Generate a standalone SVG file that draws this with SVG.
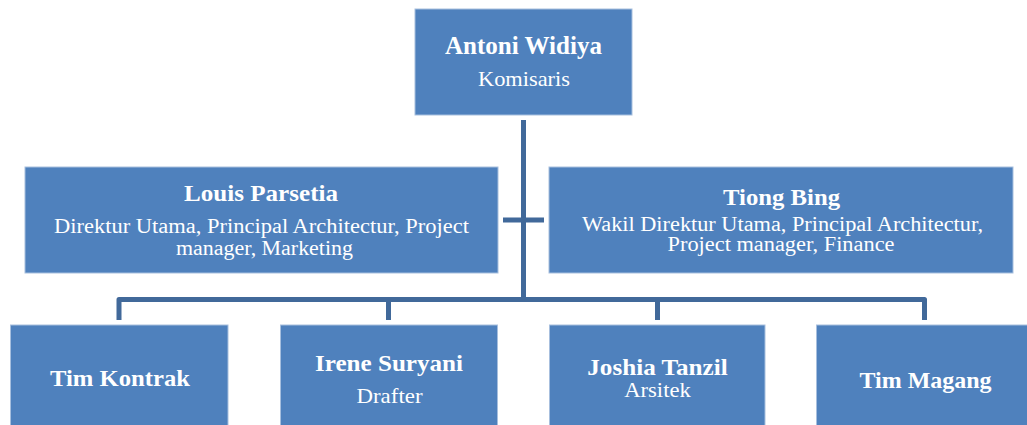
<svg xmlns="http://www.w3.org/2000/svg" width="1027" height="425" viewBox="0 0 1027 425">
<style>
.box{fill:#4F81BD;stroke:#A7BFDE;stroke-width:1}
.t{font-family:"Liberation Serif","DejaVu Serif",serif;fill:#FFFFFF;text-anchor:middle}
.b{font-weight:bold;font-size:24px}
.r{font-size:20.5px}
.conn{stroke:#41699A;stroke-width:5;fill:none;stroke-linejoin:round}
</style>
<rect width="1027" height="425" fill="#FFFFFF"/>
<g id="connectors">
<path class="conn" d="M523.5 120 V299.5"/>
<path class="conn" d="M503 220 H544"/>
<path class="conn" d="M119 320 V299.5 H924.5 V320"/>
<path class="conn" d="M388.5 299.5 V320"/>
<path class="conn" d="M657.5 299.5 V320"/>
</g>
<g id="antoni">
<rect class="box" x="415" y="9" width="217" height="106"/>
<text class="t b" x="523.5" y="54" style="font-size:25px" textLength="157" lengthAdjust="spacingAndGlyphs">Antoni Widiya</text>
<text class="t r" x="524" y="86" style="font-size:21.5px" textLength="92" lengthAdjust="spacingAndGlyphs">Komisaris</text>
</g>
<g id="louis">
<rect class="box" x="25" y="167" width="473" height="106"/>
<text class="t b" x="261" y="201" textLength="154" lengthAdjust="spacingAndGlyphs">Louis Parsetia</text>
<text class="t r" x="261.5" y="232.7" textLength="415" lengthAdjust="spacingAndGlyphs">Direktur Utama, Principal Architectur, Project</text>
<text class="t r" x="264.5" y="254.5" textLength="177" lengthAdjust="spacingAndGlyphs">manager, Marketing</text>
</g>
<g id="tiong">
<rect class="box" x="549" y="167" width="464" height="106"/>
<text class="t b" x="781.5" y="204.5" textLength="117" lengthAdjust="spacingAndGlyphs">Tiong Bing</text>
<text class="t r" x="782.5" y="230.5" textLength="401" lengthAdjust="spacingAndGlyphs">Wakil Direktur Utama, Principal Architectur,</text>
<text class="t r" x="781" y="251" textLength="227" lengthAdjust="spacingAndGlyphs">Project manager, Finance</text>
</g>
<g id="tim-kontrak">
<rect class="box" x="10.5" y="325" width="217.5" height="106"/>
<text class="t b" x="120" y="386" textLength="140" lengthAdjust="spacingAndGlyphs">Tim Kontrak</text>
</g>
<g id="irene">
<rect class="box" x="280.5" y="325" width="217" height="106"/>
<text class="t b" x="389" y="371" textLength="148" lengthAdjust="spacingAndGlyphs">Irene Suryani</text>
<text class="t r" x="389.5" y="403.3" style="font-size:22px" textLength="66" lengthAdjust="spacingAndGlyphs">Drafter</text>
</g>
<g id="joshia">
<rect class="box" x="549.5" y="325" width="215.5" height="106"/>
<text class="t b" x="657.5" y="375" style="font-size:23px" textLength="140.5" lengthAdjust="spacingAndGlyphs">Joshia Tanzil</text>
<text class="t r" x="657.5" y="396.7" textLength="66.5" lengthAdjust="spacingAndGlyphs">Arsitek</text>
</g>
<g id="tim-magang">
<rect class="box" x="816.5" y="325" width="215" height="106"/>
<text class="t b" x="925.5" y="387.5" textLength="132" lengthAdjust="spacingAndGlyphs">Tim Magang</text>
</g>
</svg>
